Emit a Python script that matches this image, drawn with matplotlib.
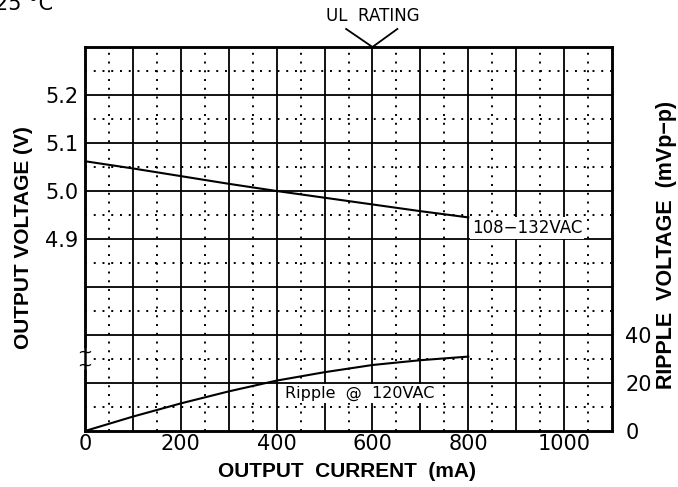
import matplotlib
matplotlib.use("Agg")
import matplotlib.pyplot as plt
import matplotlib.transforms as mtransforms

# data
current_v = [0, 100, 200, 300, 400, 500, 600, 700, 800]
voltage = [5.062, 5.047, 5.031, 5.015, 5.000, 4.986, 4.972, 4.958, 4.945]

current_r = [0, 100, 200, 300, 400, 500, 600, 700, 800]
ripple = [0, 6, 11.5, 16.5, 21, 24.5, 27.5, 29.5, 31]

x_ticks = [0, 200, 400, 600, 800, 1000]
v_ticks = [4.9, 5.0, 5.1, 5.2]
v_labels = ["4.9", "5.0", "5.1", "5.2"]
r_ticks = [0, 20, 40]
ul_rating = 600
break_at = 4.65

plt.rcParams['font.family'] = ['DejaVu Sans']
label_family = ['Liberation Sans', 'DejaVu Sans']

fig = plt.figure(figsize=(6.78, 4.87), dpi=100)
ax = fig.add_axes([85/678, 1-431/487, 527/678, 384/487])
ax.set_xlim(0, 1100)
ax.set_ylim(4.5, 5.3)

# grid: solid major, dotted minor
for x in range(100, 1100, 100):
    ax.axvline(x, color='black', lw=1.3, zorder=1)
for x in range(50, 1100, 100):
    ax.axvline(x, color='black', lw=1.4, ls=(0, (1, 3.5)), zorder=1)
for i in range(1, 8):
    ax.axhline(4.5 + i*0.1, color='black', lw=1.3, zorder=1)
for i in range(8):
    ax.axhline(4.55 + i*0.1, color='black', lw=1.4, ls=(0, (1, 3.5)), zorder=1)

for s in ax.spines.values():
    s.set_linewidth(1.8)

ax.plot(current_v, voltage, color='black', lw=1.5, zorder=3)

ax.set_xticks(x_ticks)
ax.set_xticklabels([str(t) for t in x_ticks])
ax.set_yticks(v_ticks)
ax.set_yticklabels(v_labels)
ax.tick_params(length=0, labelsize=15)
ax.tick_params(axis='x', pad=2)
ax.tick_params(axis='y', pad=5)

ax.set_xlabel("OUTPUT  CURRENT  (mA)", fontsize=15, family=label_family, fontweight='bold')
ax.xaxis.set_label_coords(0.497, -0.08)
ax.set_ylabel("OUTPUT VOLTAGE (V)", fontsize=15, family=label_family, fontweight='bold')
ax.yaxis.set_label_coords(-0.099, 0.503)

ax2 = ax.twinx()
ax2.set_ylim(0, 160)
ax2.set_yticks(r_ticks)
ax2.tick_params(length=0, labelsize=15, pad=9.5)
ax2.set_ylabel("RIPPLE  VOLTAGE  (mVp−p)", fontsize=15.5, family=label_family, fontweight='bold')
ax2.yaxis.set_label_coords(1.084, 0.484)
ax2.plot(current_r, ripple, color='black', lw=1.5, zorder=3)
for s in ax2.spines.values():
    s.set_linewidth(1.8)

ax.text(808, 4.923, "108−132VAC", fontsize=12, ha='left', va='center', zorder=4,
        bbox=dict(facecolor='white', edgecolor='none', pad=1.5))
ax2.text(418, 15.7, "Ripple  @  120VAC", fontsize=11.5, ha='left', va='center', zorder=4,
         bbox=dict(facecolor='white', edgecolor='none', pad=1.5))

# axis break mark
ax.plot([0, 0], [break_at - 0.016, break_at + 0.016], color='white', lw=4,
        clip_on=False, zorder=5)
ax.text(0, break_at, "~\n~", fontsize=13, ha='center', va='center', linespacing=0.6,
        zorder=6, clip_on=False)

# UL rating marker
trans = mtransforms.blended_transform_factory(ax.transData, ax.transAxes)
ax.plot([ul_rating - 55, ul_rating, ul_rating + 52], [1.047, 1.0, 1.047],
        color='black', lw=1.3, transform=trans, clip_on=False)
ax.text(ul_rating, 1.082, "UL  RATING", fontsize=12, ha='center', va='center',
        transform=trans)

fig.text(-5/678, 1 + 6/487, "25 °C", fontsize=15, ha='left', va='top')

fig.savefig("out.png", dpi=100)
